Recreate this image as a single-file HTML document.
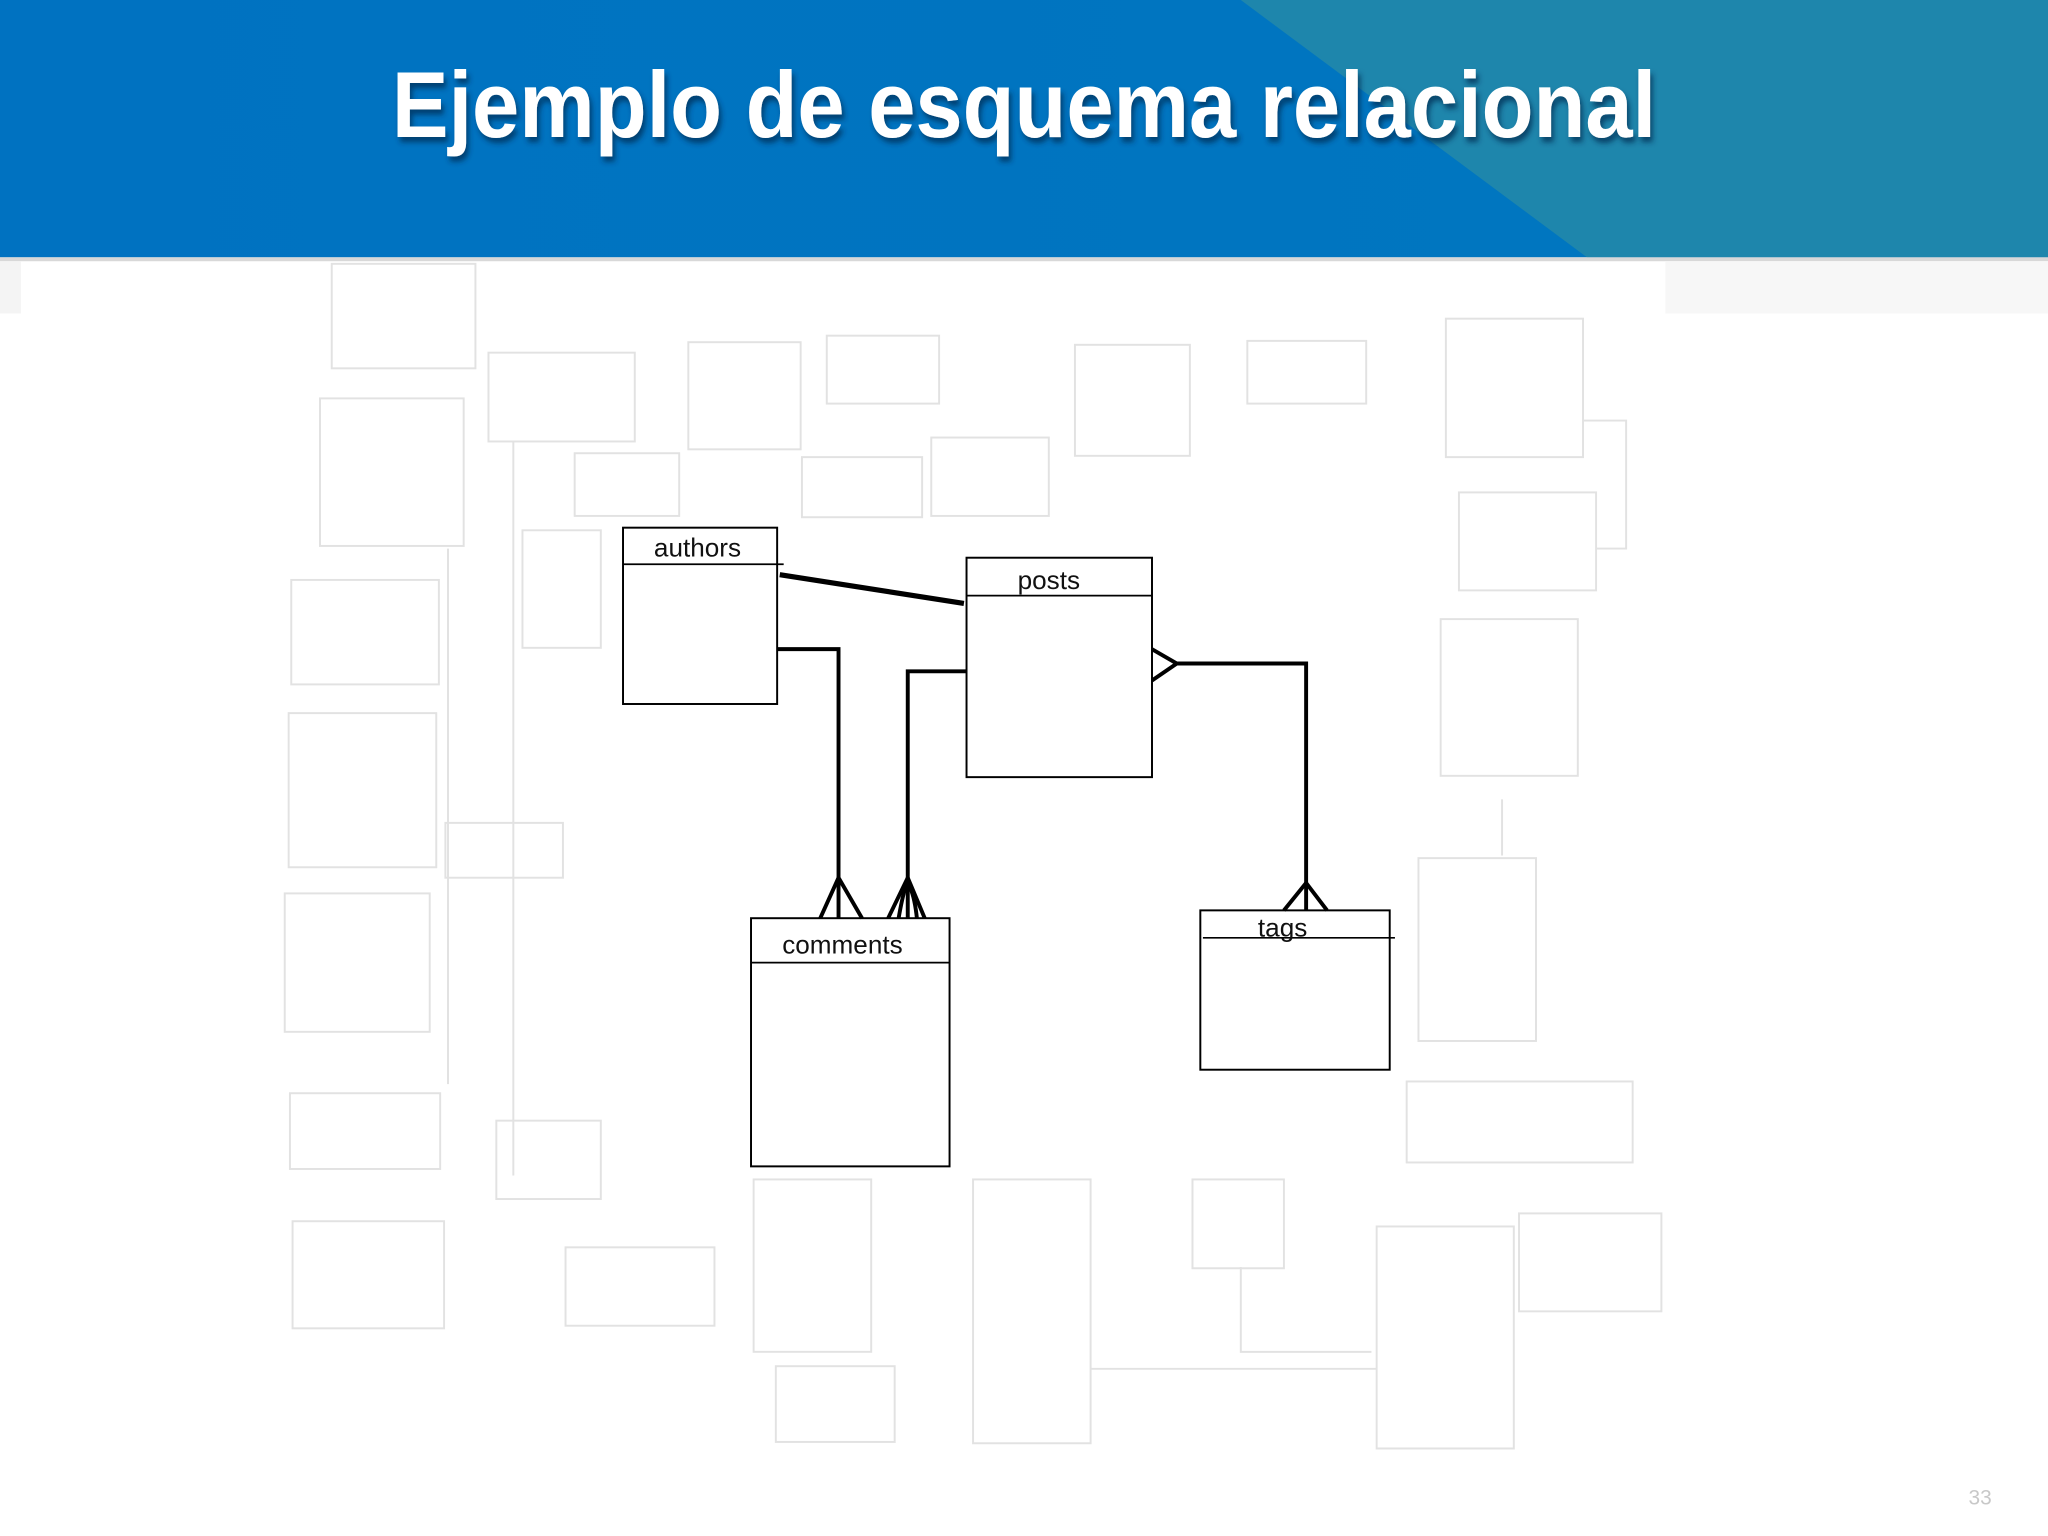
<!DOCTYPE html>
<html><head><meta charset="utf-8"><style>
html,body{margin:0;padding:0;background:#fff;}
svg{display:block;}
</style></head><body>
<svg width="2048" height="1536" viewBox="0 0 1568 1176" xmlns="http://www.w3.org/2000/svg">
<defs>
<linearGradient id="hg" x1="0" y1="0" x2="1" y2="0">
<stop offset="0" stop-color="#0072c1"/><stop offset="1" stop-color="#0077c0"/>
</linearGradient>
<filter id="sh" x="-5%" y="-20%" width="110%" height="140%"><feDropShadow dx="2" dy="4" stdDeviation="2" flood-color="#002a50" flood-opacity="0.7"/></filter>
</defs>
<rect x="0" y="0" width="1568" height="1176" fill="#fff"/>
<rect x="0" y="0" width="1568" height="197" fill="url(#hg)"/>
<polygon points="950,0 1568,0 1568,197 1215,197" fill="#1e86ac"/>
<rect x="0" y="197" width="1568" height="3" fill="#d8d8d8"/>
<rect x="0" y="200" width="16" height="40" fill="#f4f4f4"/>
<rect x="1275" y="200" width="293" height="40" fill="#f7f7f7"/>
<text x="300" y="105" font-family="Liberation Sans, sans-serif" font-weight="bold" font-size="72" fill="#fff" textLength="968" lengthAdjust="spacingAndGlyphs" filter="url(#sh)">Ejemplo de esquema relacional</text>

<g fill="none" stroke="#e2e2e2" stroke-width="1.5">
<rect x="254" y="202" width="110" height="80"/>
<rect x="245" y="305" width="110" height="113"/>
<rect x="374" y="270" width="112" height="68"/>
<rect x="527" y="262" width="86" height="82"/>
<rect x="633" y="257" width="86" height="52"/>
<rect x="823" y="264" width="88" height="85"/>
<rect x="955" y="261" width="91" height="48"/>
<rect x="1107" y="244" width="105" height="106"/>
<rect x="440" y="347" width="80" height="48"/>
<rect x="614" y="350" width="92" height="46"/>
<rect x="713" y="335" width="90" height="60"/>
<rect x="223" y="444" width="113" height="80"/>
<rect x="400" y="406" width="60" height="90"/>
<rect x="1117" y="377" width="105" height="75"/>
<rect x="1103" y="474" width="105" height="120"/>
<rect x="221" y="546" width="113" height="118"/>
<rect x="341" y="630" width="90" height="42"/>
<rect x="218" y="684" width="111" height="106"/>
<rect x="1086" y="657" width="90" height="140"/>
<rect x="222" y="837" width="115" height="58"/>
<rect x="380" y="858" width="80" height="60"/>
<rect x="1077" y="828" width="173" height="62"/>
<rect x="224" y="935" width="116" height="82"/>
<rect x="433" y="955" width="114" height="60"/>
<rect x="577" y="903" width="90" height="132"/>
<rect x="745" y="903" width="90" height="202"/>
<rect x="913" y="903" width="70" height="68"/>
<rect x="1054" y="939" width="105" height="170"/>
<rect x="1163" y="929" width="109" height="75"/>
<rect x="594" y="1046" width="91" height="58"/>
<polyline points="393,338 393,900"/>
<polyline points="343,420 343,830"/>
<polyline points="1212,322 1245,322 1245,420 1222,420"/>
<polyline points="950,970 950,1035 1050,1035"/>
<polyline points="835,1048 1054,1048"/>
<polyline points="1150,612 1150,655"/>
</g>

<g stroke="#000" stroke-width="1.5" fill="#fff">
<rect x="477" y="404" width="118" height="135"/>
<rect x="740" y="427" width="142" height="168"/>
<rect x="575" y="703" width="152" height="190"/>
<rect x="919" y="697" width="145" height="122"/>
</g>
<g stroke="#000" stroke-width="1.3">
<line x1="477" y1="432" x2="600" y2="432"/>
<line x1="740" y1="456" x2="882" y2="456"/>
<line x1="575" y1="737" x2="727" y2="737"/>
<line x1="921" y1="718" x2="1068" y2="718"/>
</g>
<g font-family="Liberation Sans, sans-serif" font-size="20" fill="#111" text-anchor="middle">
<text x="534" y="426">authors</text>
<text x="803" y="451">posts</text>
<text x="645" y="730">comments</text>
<text x="982" y="717">tags</text>
</g>
<g stroke="#000" stroke-width="3" fill="none">
<line x1="597" y1="440" x2="738" y2="462" stroke-width="4"/>
<polyline points="595,497 642,497 642,703"/>
<polyline points="628,703 642,672 660,703"/>
<polyline points="740,514 695,514 695,703"/>
<polyline points="680,703 695,672 708,703"/>
<path d="M688,703 Q692,680 695,676 Q700,684 702,703"/>
<polyline points="882,497 901,508 882,521"/>
<polyline points="901,508 1000,508 1000,697"/>
<polyline points="983,697 1000,676 1016,697"/>
</g>
<text x="1516" y="1152" font-family="Liberation Sans, sans-serif" font-size="16" fill="#c8c8c8" text-anchor="middle">33</text>
</svg>
</body></html>
